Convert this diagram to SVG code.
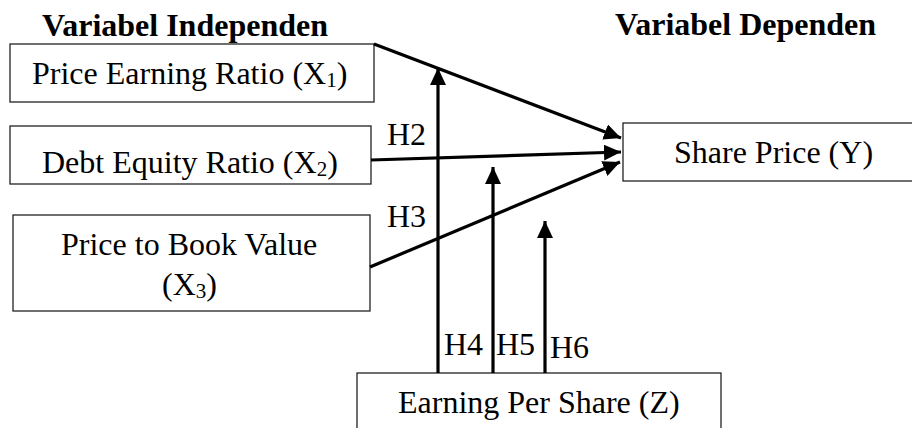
<svg xmlns="http://www.w3.org/2000/svg" width="912" height="428" viewBox="0 0 912 428">
<style>
  .t { font-family: "Liberation Serif", "Times New Roman", serif; font-size: 32px; fill: #000; }
  .b { font-weight: bold; }
  .sub { font-size: 21px; }
  .box { fill: #fff; stroke: #222; stroke-width: 1.3; }
  .ln { stroke: #000; stroke-width: 3.2; fill: none; }
</style>
<defs>
  <marker id="ah" markerUnits="userSpaceOnUse" markerWidth="17" markerHeight="16" refX="17" refY="8" orient="auto" viewBox="0 0 17 16">
    <path d="M0,0 L17,8 L0,16 z" fill="#000"/>
  </marker>
</defs>
<rect width="912" height="428" fill="#fff"/>
<text class="t b" x="42" y="36">Variabel Independen</text>
<text class="t b" x="615" y="35">Variabel Dependen</text>
<g id="x1">
  <rect class="box" x="10" y="44" width="364" height="58"/>
  <text class="t" x="32" y="84">Price Earning Ratio (X<tspan class="sub" dy="3">1</tspan><tspan dy="-3">)</tspan></text>
</g>
<g id="x2">
  <rect class="box" x="10" y="126" width="361" height="58"/>
  <text class="t" x="42" y="173">Debt Equity Ratio (X<tspan class="sub" dy="3">2</tspan><tspan dy="-3">)</tspan></text>
</g>
<g id="x3">
  <rect class="box" x="13" y="215" width="357" height="96"/>
  <text class="t" x="61" y="255">Price to Book Value</text>
  <text class="t" x="162" y="295">(X<tspan class="sub" dy="3">3</tspan><tspan dy="-3">)</tspan></text>
</g>
<g id="y">
  <rect class="box" x="623" y="123" width="300" height="58"/>
  <text class="t" x="674" y="163">Share Price (Y)</text>
</g>
<g id="z">
  <rect class="box" x="357" y="373" width="364" height="60"/>
  <text class="t" x="398" y="413">Earning Per Share (Z)</text>
</g>
<g id="connectors">
  <line class="ln" x1="374" y1="44" x2="621" y2="138" marker-end="url(#ah)"/>
  <line class="ln" x1="371" y1="160" x2="621" y2="152" marker-end="url(#ah)"/>
  <line class="ln" x1="370" y1="267" x2="620" y2="162" marker-end="url(#ah)"/>
  <line class="ln" x1="438" y1="373" x2="438" y2="68" marker-end="url(#ah)"/>
  <line class="ln" x1="493" y1="373" x2="493" y2="167" marker-end="url(#ah)"/>
  <line class="ln" x1="545" y1="373" x2="545" y2="221" marker-end="url(#ah)"/>
</g>
<g id="labels">
  <text class="t" x="387" y="145">H2</text>
  <text class="t" x="387" y="227">H3</text>
  <text class="t" x="444" y="355">H4</text>
  <text class="t" x="496" y="355">H5</text>
  <text class="t" x="550" y="358">H6</text>
</g>
</svg>
